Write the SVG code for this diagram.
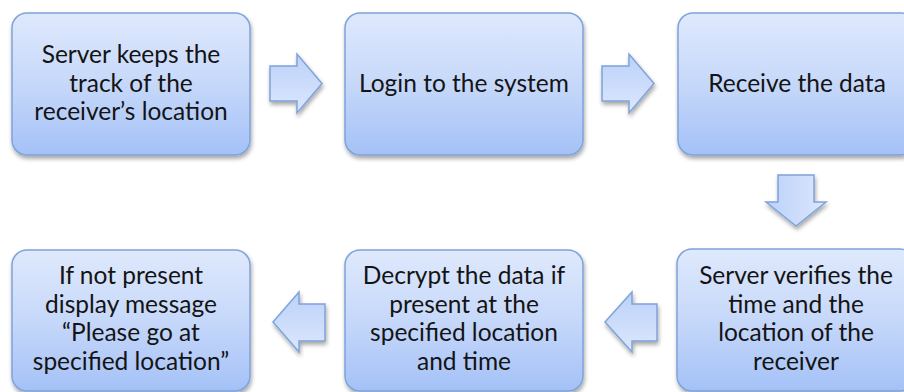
<svg xmlns="http://www.w3.org/2000/svg" width="904" height="392" viewBox="0 0 904 392">
  <defs>
    <linearGradient id="boxFill" x1="0" y1="0" x2="0" y2="1">
      <stop offset="0" stop-color="#dfe9fc"/>
      <stop offset="0.5" stop-color="#c6d8fa"/>
      <stop offset="1" stop-color="#a4c1f7"/>
    </linearGradient>
    <linearGradient id="arrowFill" x1="0" y1="0" x2="0" y2="1">
      <stop offset="0" stop-color="#bcd2f9"/>
      <stop offset="0.5" stop-color="#cbdcfb"/>
      <stop offset="1" stop-color="#dce7fc"/>
    </linearGradient>
    <linearGradient id="arrowFillV" x1="0" y1="0" x2="1" y2="0">
      <stop offset="0" stop-color="#bcd2f9"/>
      <stop offset="0.5" stop-color="#cbdcfb"/>
      <stop offset="1" stop-color="#dce7fc"/>
    </linearGradient>
    <filter id="shadow" x="-10%" y="-10%" width="125%" height="130%">
      <feGaussianBlur in="SourceAlpha" stdDeviation="2"/>
      <feOffset dx="1" dy="3" result="blur"/>
      <feComponentTransfer><feFuncA type="linear" slope="0.35"/></feComponentTransfer>
      <feMerge><feMergeNode/><feMergeNode in="SourceGraphic"/></feMerge>
    </filter>
  </defs>
  <style>
    .box { fill: url(#boxFill); stroke: #7fa3da; stroke-width: 1.5; filter: url(#shadow); }
    .arrow { fill: url(#arrowFill); stroke: #7fa3da; stroke-width: 1.5; stroke-linejoin: miter; filter: url(#shadow); }
    .label { font-family: Lato, "Open Sans", "Liberation Sans", sans-serif; font-size: 24.5px; fill: #141414; text-anchor: middle; }
  </style>
  <rect width="904" height="392" fill="#ffffff"/>

  <g id="connectors">
    <polygon class="arrow" points="270,66 297,66 297,54 322,83.5 297,113 297,101 270,101"/>
    <polygon class="arrow" points="602,66 629,66 629,54 654,83.5 629,113 629,101 602,101"/>
    <polygon class="arrow" style="fill:url(#arrowFillV)" points="778,175 814,175 814,202 826,202 796,226 766,202 778,202"/>
    <polygon class="arrow" points="657,304 632,304 632,292 605,322 632,352 632,341 657,341"/>
    <polygon class="arrow" points="325,304 299,304 299,292 273,322 299,352 299,341 325,341"/>
  </g>

  <g id="track">
    <rect class="box" x="12" y="13" width="238" height="142" rx="15"/>
    <text class="label" x="131"><tspan x="131" y="63">Server keeps the</tspan><tspan x="131" y="92">track of the</tspan><tspan x="131" y="120">receiver’s location</tspan></text>
  </g>

  <g id="login">
    <rect class="box" x="345" y="13" width="238" height="142" rx="15"/>
    <text class="label" x="464" y="92">Login to the system</text>
  </g>

  <g id="receive">
    <rect class="box" x="678" y="13" width="238" height="142" rx="15"/>
    <text class="label" x="797" y="92">Receive the data</text>
  </g>

  <g id="verify">
    <rect class="box" x="677" y="249" width="238" height="142" rx="15"/>
    <text class="label"><tspan x="796" y="284">Server verifies the</tspan><tspan x="796" y="313">time and the</tspan><tspan x="796" y="341">location of the</tspan><tspan x="796" y="370">receiver</tspan></text>
  </g>

  <g id="decrypt">
    <rect class="box" x="345" y="250" width="238" height="141" rx="15"/>
    <text class="label"><tspan x="464" y="284">Decrypt the data if</tspan><tspan x="464" y="313">present at the</tspan><tspan x="464" y="341">specified location</tspan><tspan x="464" y="370">and time</tspan></text>
  </g>

  <g id="message">
    <rect class="box" x="12" y="250" width="238" height="141" rx="15"/>
    <text class="label"><tspan x="131" y="284">If not present</tspan><tspan x="131" y="313">display message</tspan><tspan x="131" y="341">“Please go at</tspan><tspan x="131" y="370">specified location”</tspan></text>
  </g>
</svg>
